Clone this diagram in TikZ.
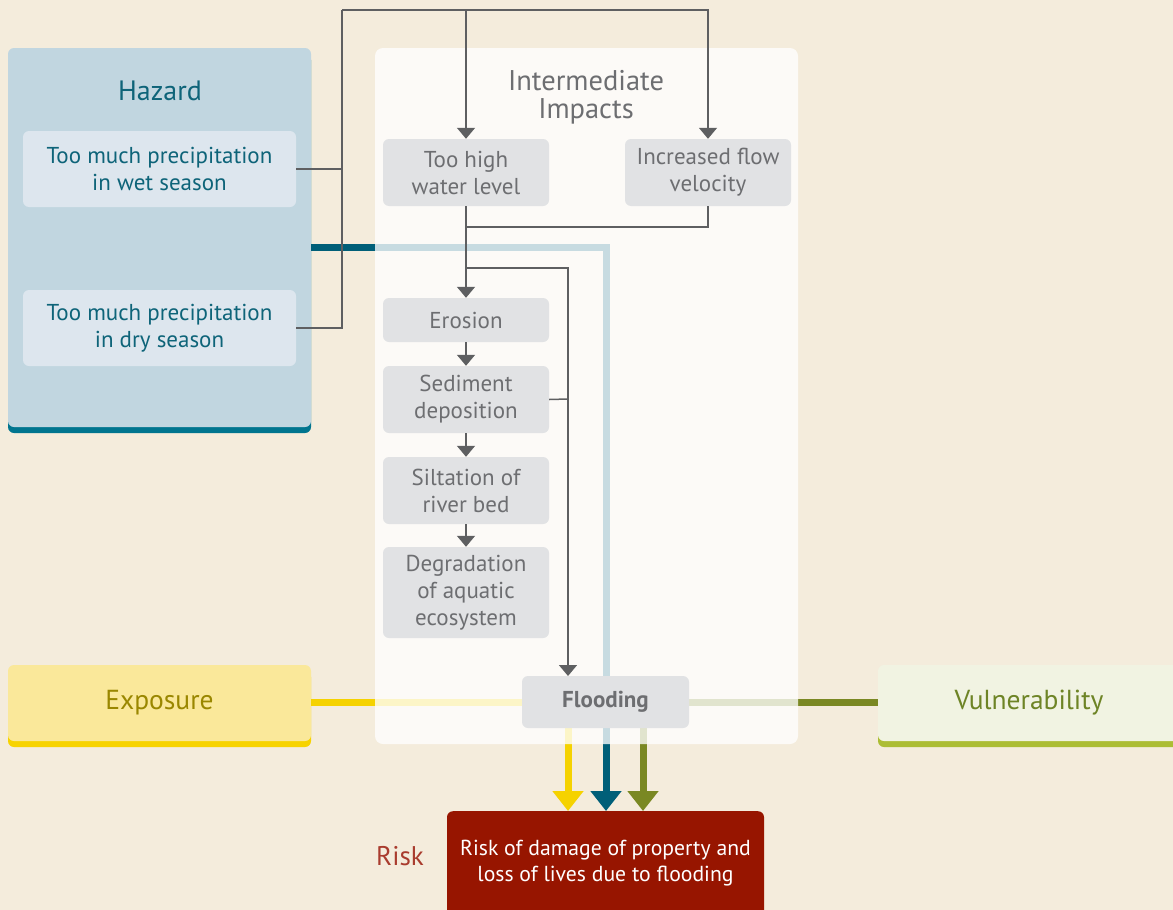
\documentclass[tikz,border=0pt]{standalone}
\usepackage{fontspec}
\setmainfont{PT Sans}
\usetikzlibrary{arrows.meta}
\definecolor{bg}{HTML}{F4ECDC}
\definecolor{hzfill}{HTML}{C1D6E0}
\definecolor{hzbar}{HTML}{00758F}
\definecolor{hzline}{HTML}{005F78}
\definecolor{subfill}{HTML}{DDE6EE}
\definecolor{hztext}{HTML}{0E6479}
\definecolor{greybox}{HTML}{E1E2E4}
\definecolor{greytext}{HTML}{6D6E71}
\definecolor{conn}{HTML}{5E5F61}
\definecolor{expfill}{HTML}{FAE89A}
\definecolor{expbar}{HTML}{F7D300}
\definecolor{exptext}{HTML}{9A8700}
\definecolor{vulfill}{HTML}{F1F3E2}
\definecolor{vulbar}{HTML}{ACBD34}
\definecolor{vultext}{HTML}{6E8426}
\definecolor{oliveline}{HTML}{7A8823}
\definecolor{yellowline}{HTML}{F5D200}
\definecolor{riskfill}{HTML}{971500}
\definecolor{risklabel}{HTML}{A93C2E}
\tikzset{
  boxtext/.style={font=\fontsize{23}{27}\selectfont, align=center},
  subbox/.style={boxtext, fill=subfill, text=hztext, rounded corners=6pt, minimum width=273pt, minimum height=76pt, inner sep=0pt},
  greynode/.style={boxtext, fill=greybox, text=greytext, rounded corners=6pt, minimum width=166pt, inner sep=0pt},
  conline/.style={draw=conn, line width=1.5pt},
  conarrow/.style={conline, -{Triangle[width=18pt,length=11pt]}},
  thick/.style={line width=7pt},
  thickarrow/.style={thick, -{Triangle[width=30pt,length=20pt]}},
  title/.style={font=\fontsize{27.5}{28}\selectfont, align=center},
}
\begin{document}
\begin{tikzpicture}[x=1pt,y=-1pt]
\clip (0,0) rectangle (1173,910);
\fill[bg] (0,0) rectangle (1173,910);

% Hazard panel
\fill[hzbar, rounded corners=6pt] (8,54) rectangle (311,433);
\node (hazard) [fill=hzfill, rounded corners=6pt, minimum width=303pt, minimum height=379pt, inner sep=0pt] at (159.5,237.5) {};
\node (hazardtitle) [title, text=hztext, font=\fontsize{28}{28}\selectfont] at (160,91) {Hazard};
\node (wet) [subbox] at (159.5,169) {Too much precipitation\\in wet season};
\node (dry) [subbox] at (159.5,328) {Too much precipitation\\in dry season};

% Exposure and vulnerability
\fill[expbar, rounded corners=6pt] (8,671) rectangle (311,747);
\node (exposure) [fill=expfill, rounded corners=6pt, minimum width=303pt, minimum height=76pt, inner sep=0pt, title, text=exptext] at (159.5,703) {Exposure};
\fill[vulbar, rounded corners=6pt] (878,671) rectangle (1190,747);
\node (vulnerability) [fill=vulfill, rounded corners=6pt, minimum width=312pt, minimum height=76pt, inner sep=0pt] at (1034,703) {};
\node (vultitle) [title, text=vultext] at (1029,703) {Vulnerability};

\coordinate (hzout) at (311,247);
\coordinate (riskin) at (606,811);
\coordinate (yin) at (568,811);
\coordinate (oin) at (643,811);
\coordinate (ytop) at (568,715);
\coordinate (otop) at (643,715);

% thick coloured lines (under the panel)
\draw[thickarrow, draw=hzline] (hzout) -| (riskin);
\draw[thick, draw=yellowline] (exposure.east |- 0,702) -- (600,702);
\draw[thick, draw=oliveline] (vulnerability.west |- 0,702) -- (610,702);
\draw[thickarrow, draw=yellowline] (ytop) -- (yin);
\draw[thickarrow, draw=oliveline] (otop) -- (oin);

% Intermediate panel
\node (panel) [fill=white, fill opacity=0.78, rounded corners=8pt, minimum width=423pt, minimum height=696pt, inner sep=0pt] at (586.5,396) {};
\node (paneltitle) [title, text=greytext, font=\fontsize{28.5}{28}\selectfont] at (586,97) {Intermediate\\Impacts};

\node (toohigh) [greynode, minimum height=67pt] at (466,172.5) {Too high\\water level};
\node (flow) [greynode, minimum height=67pt] at (708,172.5) {Increased flow\\velocity};
\node (erosion) [greynode, minimum height=44pt] at (466,320) {Erosion};
\node (sediment) [greynode, minimum height=67pt] at (466,399.5) {Sediment\\deposition};
\node (siltation) [greynode, minimum height=67pt] at (466,490.5) {Siltation of\\river bed};
\node (degradation) [greynode, minimum height=91pt] at (466,592.5) {Degradation\\of aquatic\\ecosystem};
\node (flooding) [greynode, minimum height=52pt, minimum width=167pt, font=\bfseries\fontsize{23}{27}\selectfont] at (605.5,702) {Flooding};

% Risk
\node (risk) [fill=riskfill, rounded corners=6pt, minimum width=317pt, minimum height=130pt, inner sep=0pt, anchor=north] at (605.5,811) {};
\node (risktext) [text=white, align=center, font=\fontsize{21.7}{26}\selectfont] at (605.5,863) {Risk of damage of property and\\loss of lives due to flooding};
\node (risklbl) [text=risklabel, font=\fontsize{27}{28}\selectfont] at (400,856) {Risk};

% grey connectors
\coordinate (bus) at (342,10);
\coordinate (wetj) at (342,169);
\coordinate (m1) at (466,227);
\coordinate (m2) at (466,268);
\coordinate (sedj) at (568,399);
\coordinate (flin) at (568,676);
\draw[conline] (wet.east) -- (wetj);
\draw[conline] (dry.east) -| (bus);
\draw[conarrow] (bus) -| (toohigh.north);
\draw[conarrow] (bus) -| (flow.north);
\draw[conarrow] (toohigh.south) -- (erosion.north);
\draw[conline] (flow.south) |- (m1);
\draw[conarrow] (m2) -| (flin);
\draw[conline] (sediment.east) -- (sedj);
\draw[conarrow] (erosion.south) -- (sediment.north);
\draw[conarrow] (sediment.south) -- (siltation.north);
\draw[conarrow] (siltation.south) -- (degradation.north);
\end{tikzpicture}
\end{document}
